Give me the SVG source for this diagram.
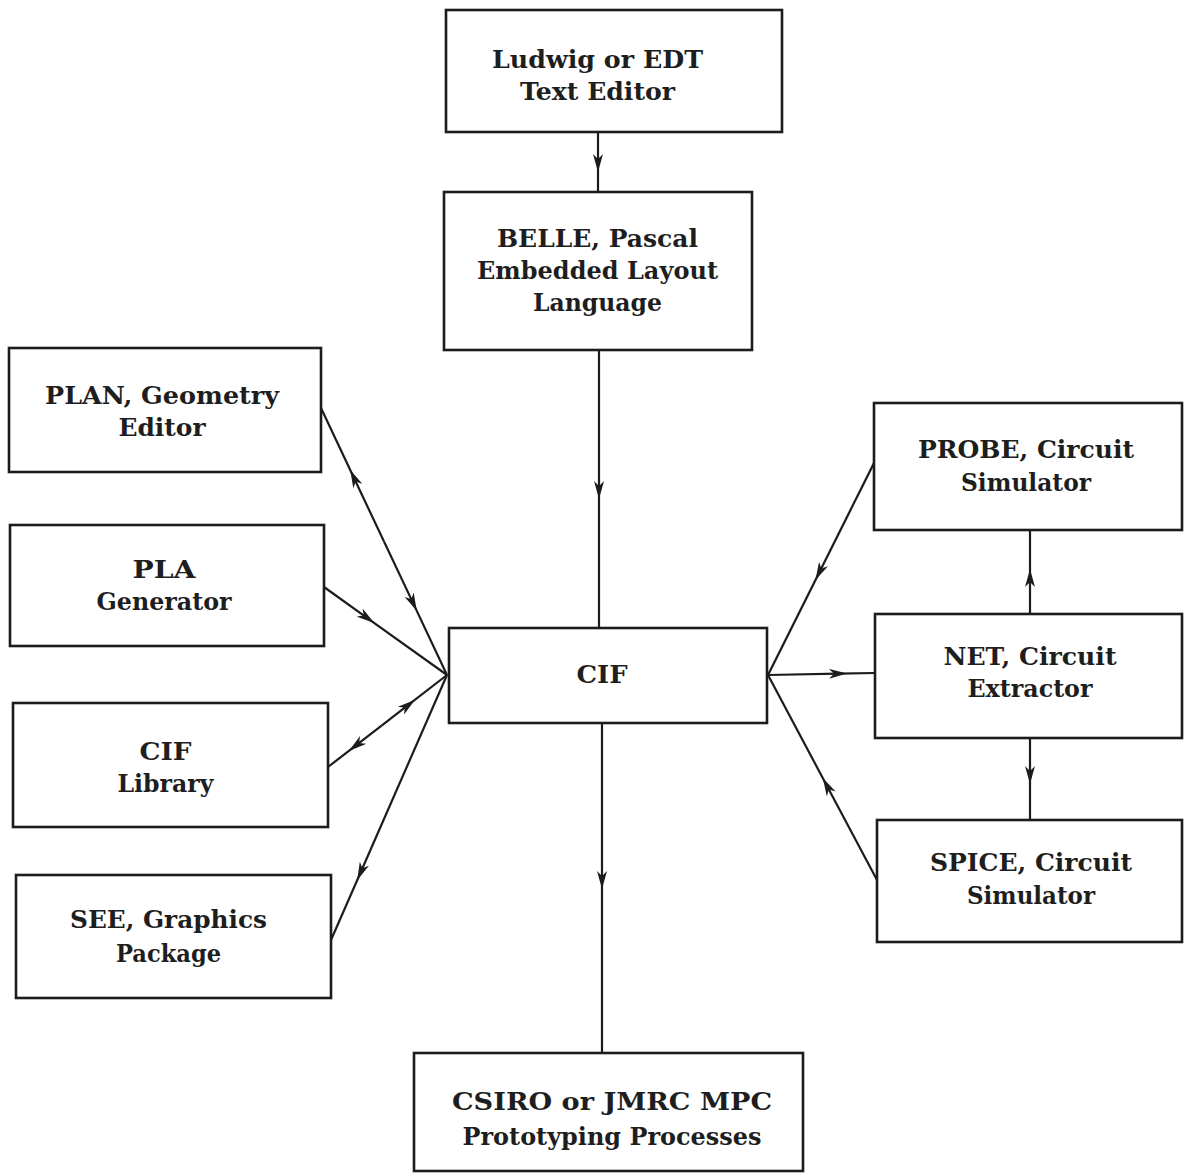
<svg xmlns="http://www.w3.org/2000/svg" width="1184" height="1175" viewBox="0 0 1184 1175">
<style>
.box{fill:none;stroke:#1c1c1c;stroke-width:2.6}
.lbl{font-family:"DejaVu Serif","Liberation Serif",serif;font-weight:bold;font-size:23.5px;fill:#1e1e1e;text-anchor:middle}
.con{fill:none;stroke:#1c1c1c;stroke-width:2.2;marker-mid:url(#ah)}
</style>
<defs>
<marker id="ah" viewBox="0 0 18 10" refX="9" refY="5" markerUnits="userSpaceOnUse" markerWidth="18" markerHeight="10" orient="auto">
<path d="M0,0 L18,5 L0,10 L5,5 z" fill="#1c1c1c"/>
</marker>
</defs>
<rect width="1184" height="1175" fill="#ffffff"/>

<g id="connectors">
<polyline class="con" points="598,133 598,163 598,192"/>
<polyline class="con" points="599,350 599,490 599,628"/>
<polyline class="con" points="602,723 602,880 602,1053"/>
<polyline class="con" points="384,541.5 354,478 321,408"/>
<polyline class="con" points="384,541.5 413,602.9 447,675"/>
<polyline class="con" points="324,587 367,617.8 447,675"/>
<polyline class="con" points="381.6,725.6 356,745.4 328,767"/>
<polyline class="con" points="381.6,725.6 408,705.2 447,675"/>
<polyline class="con" points="447,675 360.8,872 331,940"/>
<polyline class="con" points="874,463 819.5,572 768,675"/>
<polyline class="con" points="768,675 838,673.7 875,673"/>
<polyline class="con" points="877,880 827,786 768,675"/>
<polyline class="con" points="1030,614 1030,578 1030,530"/>
<polyline class="con" points="1030,738 1030,775 1030,820"/>
</g>

<g id="ludwig">
<rect class="box" x="446" y="10" width="336" height="122"/>
<text class="lbl" x="597.5" y="68" textLength="211" lengthAdjust="spacingAndGlyphs">Ludwig or EDT</text>
<text class="lbl" x="597.5" y="100" textLength="155" lengthAdjust="spacingAndGlyphs">Text Editor</text>
</g>

<g id="belle">
<rect class="box" x="444" y="192" width="308" height="158"/>
<text class="lbl" x="597.5" y="247" textLength="201" lengthAdjust="spacingAndGlyphs">BELLE, Pascal</text>
<text class="lbl" x="597.5" y="279" textLength="241" lengthAdjust="spacingAndGlyphs">Embedded Layout</text>
<text class="lbl" x="597.5" y="311" textLength="129" lengthAdjust="spacingAndGlyphs">Language</text>
</g>

<g id="plan">
<rect class="box" x="9" y="348" width="312" height="124"/>
<text class="lbl" x="162" y="404" textLength="234" lengthAdjust="spacingAndGlyphs">PLAN, Geometry</text>
<text class="lbl" x="162" y="436" textLength="87" lengthAdjust="spacingAndGlyphs">Editor</text>
</g>

<g id="pla">
<rect class="box" x="10" y="525" width="314" height="121"/>
<text class="lbl" x="164" y="578" textLength="63" lengthAdjust="spacingAndGlyphs">PLA</text>
<text class="lbl" x="164" y="610" textLength="135" lengthAdjust="spacingAndGlyphs">Generator</text>
</g>

<g id="ciflib">
<rect class="box" x="13" y="703" width="315" height="124"/>
<text class="lbl" x="165.5" y="760" textLength="52" lengthAdjust="spacingAndGlyphs">CIF</text>
<text class="lbl" x="165.5" y="792" textLength="96" lengthAdjust="spacingAndGlyphs">Library</text>
</g>

<g id="see">
<rect class="box" x="16" y="875" width="315" height="123"/>
<text class="lbl" x="168.5" y="928" textLength="197" lengthAdjust="spacingAndGlyphs">SEE, Graphics</text>
<text class="lbl" x="168.5" y="962" textLength="105" lengthAdjust="spacingAndGlyphs">Package</text>
</g>

<g id="cif">
<rect class="box" x="449" y="628" width="318" height="95"/>
<text class="lbl" x="602" y="683" textLength="51" lengthAdjust="spacingAndGlyphs">CIF</text>
</g>

<g id="probe">
<rect class="box" x="874" y="403" width="308" height="127"/>
<text class="lbl" x="1026" y="458" textLength="216" lengthAdjust="spacingAndGlyphs">PROBE, Circuit</text>
<text class="lbl" x="1026" y="491" textLength="130" lengthAdjust="spacingAndGlyphs">Simulator</text>
</g>

<g id="net">
<rect class="box" x="875" y="614" width="307" height="124"/>
<text class="lbl" x="1030" y="665" textLength="173" lengthAdjust="spacingAndGlyphs">NET, Circuit</text>
<text class="lbl" x="1030" y="697" textLength="125" lengthAdjust="spacingAndGlyphs">Extractor</text>
</g>

<g id="spice">
<rect class="box" x="877" y="820" width="305" height="122"/>
<text class="lbl" x="1031" y="871" textLength="202" lengthAdjust="spacingAndGlyphs">SPICE, Circuit</text>
<text class="lbl" x="1031" y="904" textLength="128" lengthAdjust="spacingAndGlyphs">Simulator</text>
</g>

<g id="csiro">
<rect class="box" x="414" y="1053" width="389" height="118"/>
<text class="lbl" x="612" y="1110" textLength="320" lengthAdjust="spacingAndGlyphs">CSIRO or JMRC MPC</text>
<text class="lbl" x="612" y="1145" textLength="299" lengthAdjust="spacingAndGlyphs">Prototyping Processes</text>
</g>
</svg>
